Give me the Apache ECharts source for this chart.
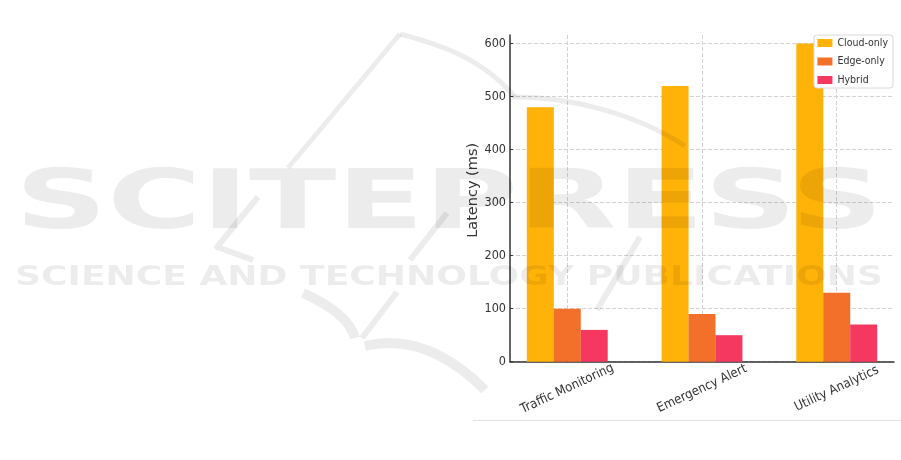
<!DOCTYPE html>
<html><head><meta charset="utf-8">
<script src="https://cdn.jsdelivr.net/npm/echarts@6/dist/echarts.min.js"></script>
<style>html,body{margin:0;padding:0;background:#fff}#c{width:901px;height:460px}</style>
</head><body><div id="c"></div>
<script>
// ---- data ----
const categories = ['Traffic Monitoring', 'Emergency Alert', 'Utility Analytics'];
const seriesNames = ['Cloud-only', 'Edge-only', 'Hybrid'];
const cloudOnly = [480, 520, 600];
const edgeOnly = [100, 90, 130];
const hybrid = [60, 50, 70];
const yTicks = [0, 100, 200, 300, 400, 500, 600];
const yAxisName = 'Latency (ms)';
const watermarkTitle = 'SCITEPRESS';
const watermarkSub = 'SCIENCE AND TECHNOLOGY PUBLICATIONS';

// ---- style ----
const colors = ['#FFB000', '#F26B22', '#F5325A'];
const groupOffsets = [-0.2, 0, 0.2];
const narrow = '"Liberation Sans Narrow", "DejaVu Sans Condensed", sans-serif';
const gridCol = '#d3d3d3';
const axisCol = '#333333';
const catIdx = categories.map((c, i) => i);

function measure(font, text) {
  const ctx = document.createElement('canvas').getContext('2d');
  ctx.font = font;
  return ctx.measureText(text).width;
}
const wmFont1 = 'bold 82px "DejaVu Sans"';
const wmFont2 = 'bold 27px "DejaVu Sans"';
const wmScale1 = 868 / measure(wmFont1, watermarkTitle);
const wmScale2 = 868 / measure(wmFont2, watermarkSub);
const wmFill = 'rgba(0,0,0,0.075)';

function wmLine(points, w) {
  return { type: 'polyline', z: 100, silent: true, shape: { points: points }, style: { fill: null, stroke: wmFill, lineWidth: w, lineJoin: 'round' } };
}
function wmCurve(p, w) {
  return { type: 'bezierCurve', z: 100, silent: true,
    shape: { x1: p[0], y1: p[1], cpx1: p[2], cpy1: p[3], cpx2: p[4], cpy2: p[5], x2: p[6], y2: p[7] },
    style: { fill: null, stroke: wmFill, lineWidth: w } };
}

const allValues = [cloudOnly, edgeOnly, hybrid];
const series = allValues.map((vals, k) => ({
  name: seriesNames[k],
  type: 'bar',
  barWidth: 27,
  barGap: '-100%',
  itemStyle: { color: colors[k], opacity: 0.97 },
  data: vals.map((v, i) => [i + groupOffsets[k], v])
}));

const chart = echarts.init(document.getElementById('c'), null, { renderer: 'canvas' });
chart.setOption({
  animation: false,
  backgroundColor: '#ffffff',
  grid: { left: 510, right: 7, top: 35, bottom: 98.3, containLabel: false },
  legend: {
    data: seriesNames,
    orient: 'vertical',
    right: 8,
    top: 35,
    icon: 'rect',
    itemWidth: 15,
    itemHeight: 8,
    itemGap: 6.5,
    padding: [2, 5, 2, 3.5],
    backgroundColor: '#ffffff',
    borderColor: '#d8d8d8',
    borderWidth: 1,
    borderRadius: 3,
    textStyle: { fontFamily: narrow, fontSize: 10.5, color: '#333', lineHeight: 12 }
  },
  xAxis: {
    type: 'value',
    min: -0.425,
    max: 2.425,
    axisLine: { show: true, onZero: false, lineStyle: { color: axisCol, width: 1.5 } },
    axisTick: { show: true, inside: true, length: 3, customValues: catIdx, lineStyle: { color: axisCol } },
    axisLabel: {
      customValues: catIdx,
      formatter: v => categories[Math.round(v)],
      rotate: 25,
      align: 'center',
      verticalAlign: 'middle',
      margin: 27,
      fontFamily: narrow,
      fontSize: 13,
      color: '#333'
    },
    splitLine: { show: true, lineStyle: { type: [4, 2], color: gridCol, width: 1 } }
  },
  yAxis: {
    type: 'value',
    min: 0,
    max: 616,
    name: yAxisName,
    nameLocation: 'middle',
    nameGap: 28,
    nameTextStyle: { fontFamily: '"DejaVu Sans", sans-serif', fontSize: 14.5, color: '#333', padding: [0, 0, 0, 16] },
    axisLine: { show: true, onZero: false, lineStyle: { color: axisCol, width: 1.5 } },
    axisTick: { show: true, inside: true, length: 3, customValues: yTicks, lineStyle: { color: axisCol } },
    axisLabel: { customValues: yTicks, margin: 4, fontFamily: narrow, fontSize: 12.5, color: '#333' },
    splitLine: { show: true, lineStyle: { type: [4, 2], color: gridCol, width: 1 } }
  },
  series: series,
  graphic: [
    { type: 'line', z: 1, silent: true, shape: { x1: 473, y1: 420.5, x2: 901, y2: 420.5 }, style: { stroke: '#e2e2e2', lineWidth: 1 } },
    { type: 'text', z: 100, silent: true, x: 15, y: 207, scaleX: wmScale1, scaleY: 1,
      style: { text: watermarkTitle, font: wmFont1, fill: wmFill, align: 'left', verticalAlign: 'middle' } },
    { type: 'text', z: 100, silent: true, x: 15, y: 278, scaleX: wmScale2, scaleY: 1,
      style: { text: watermarkSub, font: wmFont2, fill: wmFill, align: 'left', verticalAlign: 'middle' } },
    wmLine([[288, 168], [400, 34]], 5),
    wmCurve([400, 34, 430, 42, 480, 55, 515, 97], 5),
    wmCurve([512, 97, 560, 96, 630, 110, 685, 146], 5),
    wmLine([[258, 197], [217, 247], [253, 260]], 6),
    wmLine([[447, 213], [410, 260]], 6),
    wmCurve([303, 293, 330, 305, 350, 320, 355, 338], 10),
    wmCurve([365, 346, 410, 335, 450, 355, 485, 390], 10),
    wmLine([[397, 292], [362, 338]], 6),
    wmLine([[640, 237], [597, 310]], 6)
  ]
});
</script></body></html>
